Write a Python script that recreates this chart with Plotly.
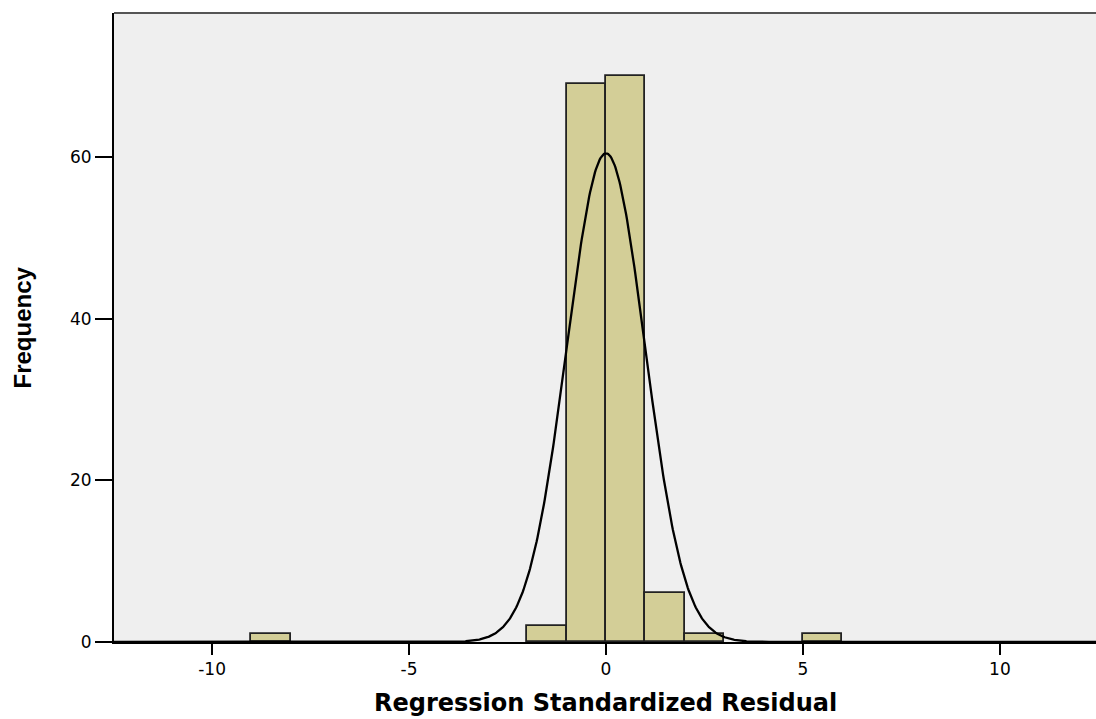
import numpy as np
import plotly.graph_objects as go

# Histogram data (bin width 1)
bin_left = [-9, -2, -1, 0, 1, 2, 5]
counts = [1, 2, 69, 70, 6, 1, 1]
bin_width = 1.0

# Normal curve parameters (fitted)
resid_mean = 0.0
resid_sd = 0.99
n_obs = sum(counts)

x_ticks = [-10, -5, 0, 5, 10]
y_ticks = [0, 20, 40, 60]

centers = [b + bin_width / 2 for b in bin_left]

xs = np.linspace(-12.5, 12.5, 1200)
ys = n_obs * bin_width / (resid_sd * np.sqrt(2 * np.pi)) * np.exp(-0.5 * ((xs - resid_mean) / resid_sd) ** 2)

fig = go.Figure()
fig.add_trace(go.Bar(
    x=centers, y=counts, width=[bin_width] * len(centers),
    marker=dict(color="#d3ce97", line=dict(color="#222222", width=1.8)),
    showlegend=False, hoverinfo="x+y",
))
fig.add_trace(go.Scatter(
    x=xs, y=ys, mode="lines", line=dict(color="black", width=2.3),
    showlegend=False, hoverinfo="skip",
))

fig.update_layout(
    width=1096, height=719,
    margin=dict(l=114, r=0, t=13, b=77),
    paper_bgcolor="white", plot_bgcolor="#efefef",
    bargap=0,
    font=dict(family="DejaVu Sans", color="black", size=17),
    xaxis=dict(
        range=[-12.49, 12.44], tickvals=x_ticks, ticktext=[str(v) for v in x_ticks],
        showgrid=False, zeroline=False, showline=True, linecolor="black", linewidth=2,
        ticks="outside", ticklen=11, tickwidth=2, tickcolor="black",
        tickfont=dict(family="DejaVu Sans", size=17, color="black"),
    ),
    yaxis=dict(
        range=[0, 77.8], tickvals=y_ticks, ticktext=[str(v) for v in y_ticks],
        showgrid=False, zeroline=False, showline=True, linecolor="black", linewidth=2,
        ticks="outside", ticklen=17, tickwidth=2, tickcolor="black",
        tickfont=dict(family="DejaVu Sans", size=17, color="black"),
    ),
    shapes=[dict(type="line", xref="paper", yref="paper", x0=0, x1=1, y0=1, y1=1,
                 line=dict(color="#555555", width=2))],
    annotations=[
        dict(text="<b>Regression Standardized Residual</b>", xref="x", yref="paper",
             x=0, y=0, yshift=-61, xanchor="center", yanchor="middle", showarrow=False,
             font=dict(family="DejaVu Sans", size=24, color="black")),
        dict(text="<b>Frequency</b>", xref="paper", yref="paper",
             x=0, xshift=-92, y=0.5, xanchor="center", yanchor="middle", textangle=-90,
             showarrow=False,
             font=dict(family="Liberation Sans", size=24, color="black")),
    ],
)

fig.write_html("out.html", config={"displayModeBar": False},
               post_script="document.body.style.margin='0';document.body.style.overflow='hidden';")
